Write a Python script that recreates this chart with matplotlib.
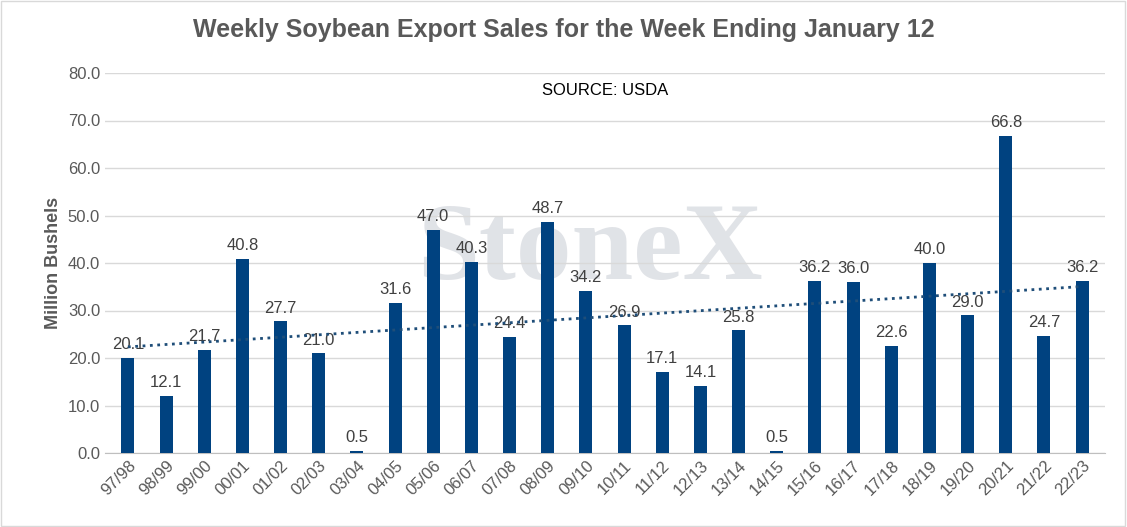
import matplotlib
matplotlib.use("Agg")
import matplotlib.pyplot as plt
import numpy as np

categories = ["97/98","98/99","99/00","00/01","01/02","02/03","03/04","04/05","05/06","06/07","07/08","08/09","09/10","10/11","11/12","12/13","13/14","14/15","15/16","16/17","17/18","18/19","19/20","20/21","21/22","22/23"]
values = [20.1,12.1,21.7,40.8,27.7,21.0,0.5,31.6,47.0,40.3,24.4,48.7,34.2,26.9,17.1,14.1,25.8,0.5,36.2,36.0,22.6,40.0,29.0,66.8,24.7,36.2]

plt.rcParams['font.family'] = ['Liberation Sans', 'DejaVu Sans']
fig = plt.figure(figsize=(11.27, 5.27), dpi=100)
ax = fig.add_axes([105/1127, 1-453/527, 1000/1127, 380/527])
x = np.arange(len(values))
ax.bar(x, values, width=0.34, color="#004280", zorder=3)
for xi, v in zip(x, values):
    ax.text(xi, v + 1.2, f"{v:.1f}", ha="center", va="bottom", fontsize=12, color="#404040", zorder=4)
coef = np.polyfit(x, values, 1)
ax.plot(x, np.polyval(coef, x), linestyle=":", color="#1f4e79", linewidth=2, zorder=4)
ax.set_xlim(-0.6, len(values) - 0.4)
ax.set_ylim(0, 80)
ax.set_yticks(np.arange(0, 81, 10))
ax.set_yticklabels([f"{t:.1f}" for t in np.arange(0, 81, 10)], fontsize=12, color="#595959")
ax.set_xticks(x)
ax.set_xticklabels(categories, rotation=45, ha="right", rotation_mode="anchor", fontsize=12, color="#595959")
ax.grid(axis="y", color="#d9d9d9", linewidth=1, zorder=0)
for s in ["top", "right", "left"]:
    ax.spines[s].set_visible(False)
ax.spines["bottom"].set_color("#bfbfbf")
ax.tick_params(length=0)
ax.set_ylabel("Million Bushels", fontsize=13, fontweight="bold", color="#595959")
ax.text(0.5, 0.955, "SOURCE: USDA", transform=ax.transAxes, ha="center", va="center", fontsize=12, color="black")
ax.text(0.485, 0.53, "StoneX", transform=ax.transAxes, ha="center", va="center", fontsize=80, fontweight="bold",
        family="Liberation Serif", color="#c8ccd4", alpha=0.55, zorder=1)
fig.text(0.5, 1-30/527, "Weekly Soybean Export Sales for the Week Ending January 12", ha="center", va="center",
         fontsize=18, fontweight="bold", color="#595959")
fig.patches.append(plt.Rectangle((0.001, 0.001), 0.997, 0.997, transform=fig.transFigure, fill=False, edgecolor="#d9d9d9"))
fig.savefig("out.png", dpi=100)
